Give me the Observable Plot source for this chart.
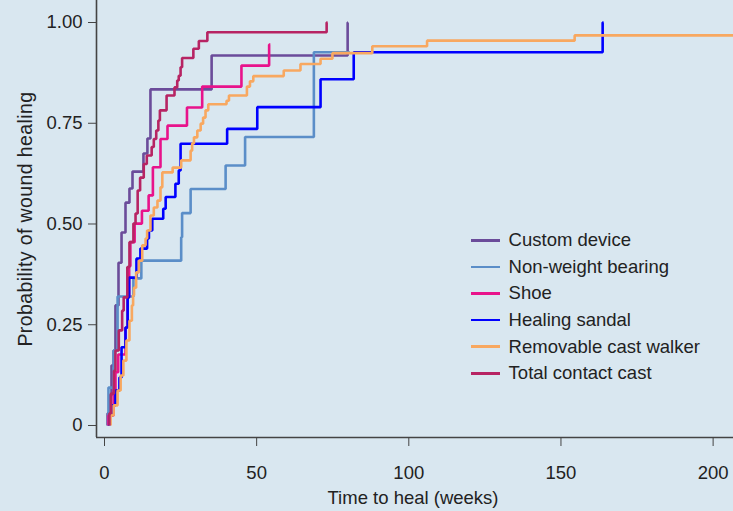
<!DOCTYPE html>
<html><head><meta charset="utf-8">
<script src="https://cdn.jsdelivr.net/npm/d3@7"></script>
<script src="https://cdn.jsdelivr.net/npm/@observablehq/plot@0.6"></script>
<style>
html,body{margin:0;padding:0;background:#d9e7f0;}
#chart{position:relative;width:733px;height:511px;font-family:"Liberation Sans",Arial,sans-serif;}
#legend{position:absolute;left:471px;top:227px;}
.row{display:flex;align-items:center;height:26.6px;font-size:18.5px;color:#222;white-space:nowrap;}
.sw{display:inline-block;width:29px;height:2.5px;margin-right:8.6px;}
.ytitle text{letter-spacing:0.4px;}
</style></head><body><div id="chart"></div>
<script>
const seriesNames = ["Custom device", "Non-weight bearing", "Shoe", "Healing sandal", "Removable cast walker", "Total contact cast"];
const seriesColors = ["#6b4c9a", "#5b8ec8", "#e8138b", "#0000ff", "#f8a860", "#b72463"];

const weeksCustom = [1.0, 1.6, 2.3, 3.0, 3.6, 4.6, 5.6, 6.9, 8.2, 9.2, 12.8, 14.1, 15.1, 35.2, 79.9];
const probCustom  = [0.030, 0.074, 0.149, 0.186, 0.298, 0.404, 0.479, 0.553, 0.588, 0.630, 0.675, 0.712, 0.834, 0.918, 1.000];

const weeksNWB = [1.3, 3.0, 4.3, 9.5, 12.1, 25.2, 25.5, 28.3, 39.8, 46.2, 68.8];
const probNWB  = [0.094, 0.186, 0.320, 0.365, 0.409, 0.467, 0.527, 0.587, 0.645, 0.716, 0.926];

const weeksShoe = [1.3, 3.0, 3.6, 4.5, 6.9, 7.6, 8.1, 8.5, 9.9, 12.3, 14.5, 15.9, 18.4, 20.7, 27.1, 32.1, 45.0, 54.1];
const probShoe  = [0.025, 0.087, 0.132, 0.176, 0.243, 0.318, 0.395, 0.455, 0.501, 0.533, 0.571, 0.641, 0.711, 0.744, 0.789, 0.841, 0.893, 0.945];

const weeksSandal = [1.6, 2.6, 3.6, 4.9, 5.6, 6.9, 7.6, 8.1, 10.5, 11.8, 14.0, 14.6, 15.7, 19.3, 20.1, 23.3, 24.4, 25.0, 40.3, 50.2, 71.0, 81.9, 163.7];
const probSandal  = [0.025, 0.050, 0.087, 0.119, 0.194, 0.243, 0.318, 0.367, 0.414, 0.439, 0.464, 0.484, 0.513, 0.538, 0.567, 0.600, 0.633, 0.699, 0.736, 0.790, 0.859, 0.926, 1.000];

const weeksWalker = [2.0, 3.0, 4.3, 5.3, 6.2, 7.2, 8.2, 9.0, 9.4, 9.7, 10.4, 11.3, 12.4, 13.5, 14.0, 15.1, 16.2, 17.4, 18.4, 19.0, 22.4, 25.2, 28.3, 28.8, 29.4, 30.5, 31.6, 32.4, 33.2, 34.1, 40.1, 40.9, 46.8, 47.8, 48.9, 58.9, 64.4, 71.0, 74.9, 88.0, 106.0, 154.5];
const probWalker  = [0.025, 0.050, 0.087, 0.124, 0.161, 0.211, 0.260, 0.298, 0.323, 0.342, 0.380, 0.409, 0.447, 0.464, 0.484, 0.521, 0.541, 0.558, 0.591, 0.628, 0.640, 0.658, 0.682, 0.700, 0.715, 0.732, 0.749, 0.764, 0.782, 0.797, 0.806, 0.819, 0.841, 0.854, 0.867, 0.881, 0.897, 0.910, 0.924, 0.941, 0.955, 0.968];

const weeksTCC = [1.6, 2.1, 3.1, 3.6, 4.7, 5.8, 6.3, 7.5, 8.2, 9.5, 10.2, 10.9, 11.7, 12.9, 13.9, 15.5, 16.2, 17.0, 17.7, 18.2, 20.4, 23.0, 23.9, 24.4, 25.0, 25.5, 29.2, 31.0, 33.8, 73.0];
const probTCC  = [0.030, 0.079, 0.136, 0.186, 0.236, 0.285, 0.318, 0.393, 0.455, 0.501, 0.526, 0.583, 0.615, 0.649, 0.670, 0.691, 0.711, 0.732, 0.757, 0.782, 0.819, 0.839, 0.856, 0.868, 0.889, 0.912, 0.935, 0.954, 0.976, 1.000];

// last follow-up time (weeks) for each series
const followUpEnd = [80.0, 80.6, 54.5, 164.0, 210, 73.3];

const xTicks = [0, 50, 100, 150, 200];
const yTicks = [0, 0.25, 0.5, 0.75, 1];
const yTickLabels = ["0", "0.25", "0.50", "0.75", "1.00"];
const xTitle = "Time to heal (weeks)";
const yTitle = "Probability of wound healing";

const allWeeks = [weeksCustom, weeksNWB, weeksShoe, weeksSandal, weeksWalker, weeksTCC];
const allProbs = [probCustom, probNWB, probShoe, probSandal, probWalker, probTCC];

const rows = [];
seriesNames.forEach((name, i) => {
  const w = allWeeks[i], p = allProbs[i];
  rows.push({series: name, week: w[0], prob: 0});
  w.forEach((wk, j) => rows.push({series: name, week: wk, prob: p[j]}));
  rows.push({series: name, week: followUpEnd[i], prob: p[p.length - 1]});
});

const xMin = -2.63, yMin = -0.0298;
const axisColor = "#444";

const chart = Plot.plot({
  width: 733, height: 511,
  marginLeft: 96, marginRight: 0, marginTop: 0, marginBottom: 74,
  style: {background: "transparent", fontFamily: "'Liberation Sans', Arial, sans-serif", fontSize: "18.5px", color: "#222", overflow: "hidden"},
  x: {domain: [xMin, 206.7]},
  y: {domain: [yMin, 1.0546]},
  color: {domain: seriesNames, range: seriesColors},
  marks: [
    Plot.line(rows, {x: "week", y: "prob", z: "series", stroke: "series", curve: "step-after", strokeWidth: 2.6, strokeLinejoin: "miter", strokeLinecap: "butt", clip: true}),
    Plot.ruleX([xMin], {stroke: axisColor, strokeWidth: 1.6}),
    Plot.ruleY([yMin], {stroke: axisColor, strokeWidth: 1.6}),
    Plot.axisX({ticks: xTicks, tickSize: 9, tickPadding: 19, stroke: axisColor, fill: "#222", label: null, tickFormat: d => String(d)}),
    Plot.axisY({ticks: yTicks, tickSize: 8, tickPadding: 6, stroke: axisColor, fill: "#222", label: null, tickFormat: d => yTickLabels[yTicks.indexOf(d)]}),
    Plot.text([xTitle], {frameAnchor: "bottom", dy: 66, dx: -2, lineAnchor: "bottom", fill: "#222", fontSize: 18.5}),
    Plot.text([yTitle], {frameAnchor: "left", dx: -71, rotate: -90, textAnchor: "middle", lineAnchor: "middle", fill: "#222", fontSize: 19.5, className: "ytitle"})
  ]
});
const root = document.getElementById("chart");
root.appendChild(chart);

const legend = document.createElement("div");
legend.id = "legend";
seriesNames.forEach((name, i) => {
  const r = document.createElement("div");
  r.className = "row";
  const s = document.createElement("span");
  s.className = "sw";
  s.style.background = seriesColors[i];
  r.appendChild(s);
  r.appendChild(document.createTextNode(name));
  legend.appendChild(r);
});
root.appendChild(legend);
</script>
</body></html>
